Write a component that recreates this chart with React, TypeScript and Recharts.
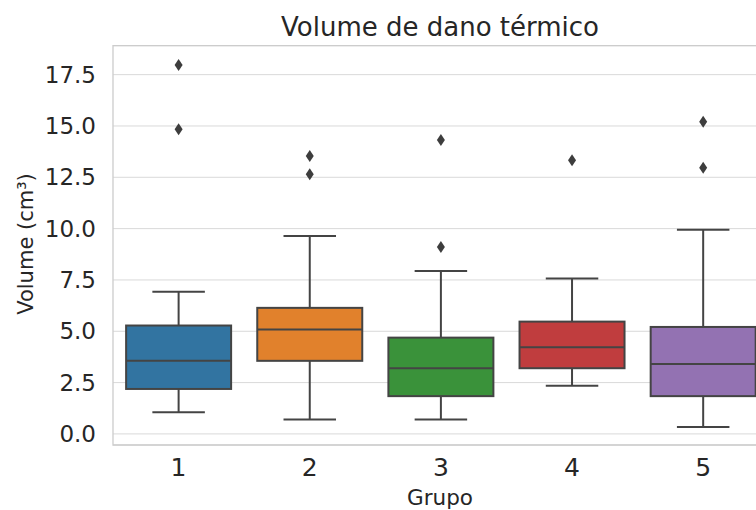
import { ComposedChart, Bar, XAxis, YAxis, CartesianGrid, ReferenceArea } from 'recharts'

// valores (cm³)
const grupos = ['1', '2', '3', '4', '5']
const whiskerLow = [1.06, 0.7, 0.7, 2.35, 0.34]
const q1 = [2.19, 3.56, 1.84, 3.2, 1.84]
const mediana = [3.56, 5.08, 3.2, 4.22, 3.41]
const q3 = [5.28, 6.14, 4.69, 5.47, 5.21]
const whiskerHigh = [6.92, 9.64, 7.94, 7.57, 9.94]
const outliers = [
  [17.97, 14.84],
  [13.54, 12.65],
  [14.32, 9.11],
  [13.33],
  [15.2, 12.97],
]
const yTicks = [0, 2.5, 5, 7.5, 10, 12.5, 15, 17.5]

const cores = ['#3274a1', '#e1812c', '#3a923a', '#c03d3e', '#9372b2']
const LINE = '#444444'
const FONT = 'DejaVu Sans'

const data = grupos.map((g, i) => ({
  grupo: g,
  range: [whiskerLow[i], whiskerHigh[i]],
  q1: q1[i],
  mediana: mediana[i],
  q3: q3[i],
  outliers: outliers[i],
  cor: cores[i],
}))

function BoxShape(props: any) {
  const { x, y, width, height, payload } = props
  const lo = payload.range[0]
  const hi = payload.range[1]
  const k = height / (hi - lo)
  const py = (v: number) => y + (hi - v) * k
  const cx = x + width / 2
  const cap = width / 4
  return (
    <g>
      <line x1={cx} x2={cx} y1={py(hi)} y2={py(payload.q3)} stroke={LINE} strokeWidth={2} />
      <line x1={cx} x2={cx} y1={py(payload.q1)} y2={py(lo)} stroke={LINE} strokeWidth={2} />
      <line x1={cx - cap} x2={cx + cap} y1={py(hi)} y2={py(hi)} stroke={LINE} strokeWidth={2} />
      <line x1={cx - cap} x2={cx + cap} y1={py(lo)} y2={py(lo)} stroke={LINE} strokeWidth={2} />
      <rect
        x={x}
        y={py(payload.q3)}
        width={width}
        height={py(payload.q1) - py(payload.q3)}
        fill={payload.cor}
        stroke={LINE}
        strokeWidth={2}
      />
      <line
        x1={x}
        x2={x + width}
        y1={py(payload.mediana)}
        y2={py(payload.mediana)}
        stroke={LINE}
        strokeWidth={2}
      />
      {payload.outliers.map((o: number, j: number) => {
        const oy = py(o)
        return (
          <polygon
            key={j}
            points={`${cx},${oy - 6} ${cx + 4},${oy} ${cx},${oy + 6} ${cx - 4},${oy}`}
            fill="#3d3d3d"
          />
        )
      })}
    </g>
  )
}

export default function App() {
  return (
    <div
      style={{
        position: 'absolute',
        left: 0,
        top: 0,
        width: 756,
        height: 510,
        overflow: 'hidden',
        background: '#fff',
        fontFamily: FONT,
      }}
    >
      <svg width={756} height={510} style={{ position: 'absolute', left: 0, top: 0 }}>
        <text x={440} y={36} textAnchor="middle" fontSize={26} fill="#262626" fontFamily={FONT}>
          Volume de dano térmico
        </text>
      </svg>
      <div style={{ position: 'absolute', left: 0, top: 0 }}>
        <ComposedChart
          width={780}
          height={510}
          data={data}
          margin={{ top: 45.7, right: 11.3, bottom: 0, left: 0 }}
          barCategoryGap="10%"
        >
          <CartesianGrid vertical={false} stroke="#d9d9d9" strokeWidth={1} />
          <ReferenceArea
            y1={-0.54}
            y2={18.91}
            fill="none"
            stroke="#cccccc"
            strokeWidth={1.3}
            ifOverflow="visible"
          />
          <XAxis
            dataKey="grupo"
            type="category"
            height={65}
            axisLine={false}
            tickLine={false}
            tickSize={0}
            tickMargin={13}
            tick={{ fill: '#262626', fontSize: 25, fontFamily: FONT }}
            label={{
              content: () => (
                <text x={440} y={505} textAnchor="middle" fontSize={21.5} fill="#262626" fontFamily={FONT}>
                  Grupo
                </text>
              ),
            }}
          />
          <YAxis
            type="number"
            domain={[-0.54, 18.91]}
            ticks={yTicks}
            allowDataOverflow
            width={113}
            axisLine={false}
            tickLine={false}
            tickSize={0}
            tickMargin={17}
            tickFormatter={(v: number) => v.toFixed(1)}
            tick={{ fill: '#262626', fontSize: 23, fontFamily: FONT }}
            label={{
              content: () => (
                <text
                  transform="rotate(-90)"
                  x={-244}
                  y={33}
                  textAnchor="middle"
                  fontSize={21}
                  fill="#262626"
                  fontFamily={FONT}
                >
                  Volume (cm³)
                </text>
              ),
            }}
          />
          <Bar dataKey="range" shape={BoxShape} isAnimationActive={false} />
        </ComposedChart>
      </div>
    </div>
  )
}
